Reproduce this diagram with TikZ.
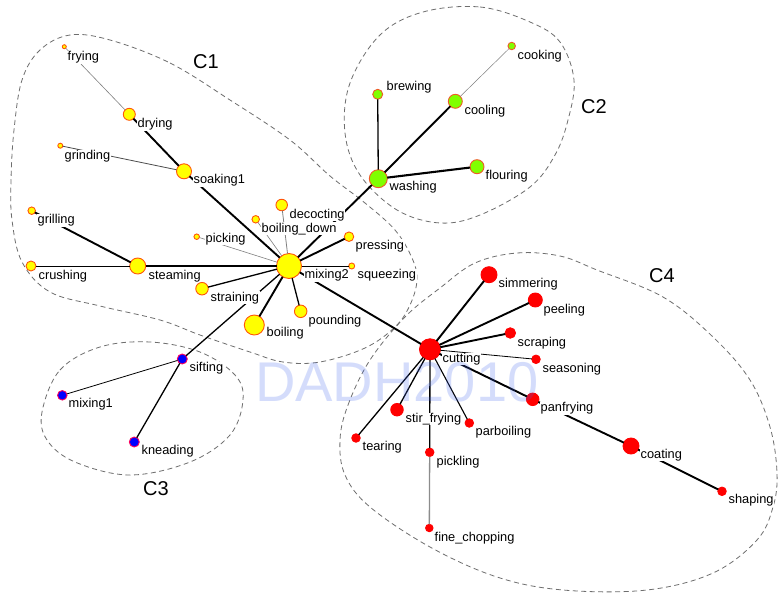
\documentclass[tikz,border=0pt]{standalone}
\usepackage{fontspec}
\setmainfont{Liberation Sans}
\definecolor{ylw}{RGB}{255,255,0}
\definecolor{ylwb}{RGB}{255,85,10}
\definecolor{grn}{RGB}{128,255,0}
\definecolor{grnb}{RGB}{240,90,40}
\definecolor{blu}{RGB}{0,0,255}
\definecolor{blub}{RGB}{255,0,90}
\definecolor{rd}{RGB}{255,0,0}
\definecolor{hullc}{RGB}{110,110,110}
\definecolor{wm}{RGB}{60,100,240}
\begin{document}
\begin{tikzpicture}[x=1pt,y=-1pt,
  vtx/.style={circle,inner sep=0pt,outer sep=0pt,line width=0.9pt},
  yv/.style={vtx,fill=ylw,draw=ylwb},
  gv/.style={vtx,fill=grn,draw=grnb},
  bv/.style={vtx,fill=blu,draw=blub},
  rv/.style={vtx,fill=rd,draw=rd},
  lbl/.style={anchor=base west,fill=white,inner sep=0.5pt,font=\fontsize{12.8}{14}\selectfont},
  clab/.style={anchor=base west,inner sep=0pt,font=\fontsize{20}{24}\selectfont},
  hull/.style={draw=hullc,line width=0.8pt,dash pattern=on 5pt off 3.5pt},
  wide/.style={line width=1.9pt},
  mid/.style={line width=1.3pt},
  slim/.style={line width=0.8pt},
  faint/.style={line width=0.6pt,draw=gray}]
\fill[white] (0,0) rectangle (778,594);
\useasboundingbox (0,0) rectangle (778,594);

% cluster hulls
\draw[hull] plot[smooth cycle,tension=0.6] coordinates {(110,40) (170,63) (230,100) (290,140) (330,176) (365,203) (395,230) (412,258) (417,280) (410,305) (395,327) (365,348) (320,362) (283,362) (250,352) (200,335) (160,320) (100,306) (50,292) (22,262) (12,220) (11,180) (14,130) (22,80) (40,50) (70,35)};
\draw[hull] plot[smooth cycle,tension=0.6] coordinates {(423,12) (480,7) (530,22) (560,42) (574,80) (568,120) (555,155) (530,187) (480,215) (440,223) (397,210) (360,175) (345,133) (350,83) (380,35)};
\draw[hull] plot[smooth cycle,tension=0.6] coordinates {(42,412) (60,370) (100,347) (150,342) (200,352) (235,375) (243,400) (230,435) (190,462) (130,475) (75,462) (47,440)};
\draw[hull] plot[smooth cycle,tension=0.6] coordinates {(340,440) (348,405) (370,360) (405,317) (440,288) (475,263) (517,253) (560,256) (597,270) (663,297) (713,337) (750,380) (770,427) (777,473) (773,507) (757,540) (713,573) (647,590) (563,590) (497,577) (430,547) (370,507) (345,475)};

% vertices C1
\node[yv,minimum size=4pt] (frying) at (64.3,46.7) {};
\node[yv,minimum size=12pt] (drying) at (129.3,114.3) {};
\node[yv,minimum size=5pt] (grinding) at (60.3,145.7) {};
\node[yv,minimum size=15pt] (soaking1) at (184,171.3) {};
\node[yv,minimum size=7.5pt] (grilling) at (31.7,210.7) {};
\node[yv,minimum size=10pt] (crushing) at (31,266) {};
\node[yv,minimum size=16pt] (steaming) at (137.7,266) {};
\node[yv,minimum size=5.5pt] (picking) at (196.7,236.7) {};
\node[yv,minimum size=7.5pt] (boilingdown) at (255.7,219.3) {};
\node[yv,minimum size=11.5pt] (decocting) at (281.7,205) {};
\node[yv,minimum size=9.5pt] (pressing) at (349,236.7) {};
\node[yv,minimum size=25pt] (mixing2) at (289,266) {};
\node[yv,minimum size=6pt] (squeezing) at (351.7,266) {};
\node[yv,minimum size=12.5pt] (straining) at (202,288.7) {};
\node[yv,minimum size=12.5pt] (pounding) at (300.7,311.3) {};
\node[yv,minimum size=20pt] (boiling) at (254.3,325) {};
% C2
\node[gv,minimum size=7.5pt] (cooking) at (511.7,46) {};
\node[gv,minimum size=10pt] (brewing) at (377.7,94.3) {};
\node[gv,minimum size=14pt] (cooling) at (455.3,101.3) {};
\node[gv,minimum size=18pt] (washing) at (378.3,178.7) {};
\node[gv,minimum size=14pt] (flouring) at (477,166.7) {};
% C3
\node[bv,minimum size=10pt] (sifting) at (182.3,359) {};
\node[bv,minimum size=9.5pt] (mixing1) at (62.3,395.3) {};
\node[bv,minimum size=10pt] (kneading) at (134.3,442) {};
% C4
\node[rv,minimum size=16pt] (simmering) at (489,274.7) {};
\node[rv,minimum size=14pt] (peeling) at (535.3,300) {};
\node[rv,minimum size=10.5pt] (scraping) at (510.3,333) {};
\node[rv,minimum size=21pt] (cutting) at (430,349.3) {};
\node[rv,minimum size=8.5pt] (seasoning) at (536,359.3) {};
\node[rv,minimum size=12.5pt] (panfrying) at (532.7,399.3) {};
\node[rv,minimum size=12.5pt] (stirfrying) at (397,409.7) {};
\node[rv,minimum size=8.5pt] (parboiling) at (469.3,423) {};
\node[rv,minimum size=8.5pt] (tearing) at (356,438) {};
\node[rv,minimum size=8.5pt] (pickling) at (429.7,452.3) {};
\node[rv,minimum size=16pt] (coating) at (631,446) {};
\node[rv,minimum size=8.5pt] (shaping) at (722,491.3) {};
\node[rv,minimum size=7.5pt] (finechopping) at (429.3,528) {};

% edges
\draw[faint] (frying) -- (drying);
\draw[wide] (drying) -- (soaking1);
\draw[slim,draw=black!70] (grinding) -- (soaking1);
\draw[wide] (soaking1) -- (mixing2);
\draw[wide] (grilling) -- (steaming);
\draw[slim] (crushing) -- (steaming);
\draw[wide] (steaming) -- (mixing2);
\draw[faint] (picking) -- (mixing2);
\draw[faint] (boilingdown) -- (mixing2);
\draw[faint,line width=0.8pt] (decocting) -- (mixing2);
\draw[wide] (pressing) -- (mixing2);
\draw[slim] (squeezing) -- (mixing2);
\draw[mid] (straining) -- (mixing2);
\draw[wide] (boiling) -- (mixing2);
\draw[mid] (pounding) -- (mixing2);
\draw[wide] (mixing2) -- (washing);
\draw[mid] (mixing2) -- (sifting);
\draw[wide] (mixing2) -- (cutting);
\draw[mid] (washing) -- (brewing);
\draw[wide] (washing) -- (cooling);
\draw[faint,line width=0.5pt] (cooling) -- (cooking);
\draw[wide,line width=2.1pt] (washing) -- (flouring);
\draw[slim] (sifting) -- (mixing1);
\draw[mid] (sifting) -- (kneading);
\draw[wide] (cutting) -- (simmering);
\draw[wide] (cutting) -- (peeling);
\draw[wide] (cutting) -- (scraping);
\draw[slim] (cutting) -- (seasoning);
\draw[wide] (cutting) -- (panfrying);
\draw[mid] (cutting) -- (stirfrying);
\draw[mid] (cutting) -- (tearing);
\draw[mid] (cutting) -- (pickling);
\draw[mid,line width=1.1pt] (cutting) -- (parboiling);
\draw[mid,draw=black!45] (pickling) -- (finechopping);
\draw[wide] (panfrying) -- (coating);
\draw[wide] (coating) -- (shaping);

% labels
\node[lbl] (lfrying) at (67,60.5) {frying};
\node[lbl] (ldrying) at (137,127.5) {drying};
\node[lbl] (lgrinding) at (64,159.5) {grinding};
\node[lbl] (lsoaking1) at (193,183.5) {soaking1};
\node[lbl] (lgrilling) at (37,223.5) {grilling};
\node[lbl] (lcrushing) at (38,279) {crushing};
\node[lbl] (lsteaming) at (148,279) {steaming};
\node[lbl] (lpicking) at (205,242) {picking};
\node[lbl] (lboilingdown) at (261,232) {boiling\_down};
\node[lbl] (ldecocting) at (289,218) {decocting};
\node[lbl] (lpressing) at (355,249) {pressing};
\node[lbl] (lmixing2) at (304,278.5) {mixing2};
\node[lbl] (lsqueezing) at (357,278.5) {squeezing};
\node[lbl] (lstraining) at (210,301) {straining};
\node[lbl] (lpounding) at (308,324) {pounding};
\node[lbl] (lboiling) at (266,336) {boiling};
\node[lbl] (lcooking) at (517,59.3) {cooking};
\node[lbl] (lbrewing) at (386,90.7) {brewing};
\node[lbl] (lcooling) at (464,114) {cooling};
\node[lbl] (lwashing) at (389,190.7) {washing};
\node[lbl] (lflouring) at (485,179) {flouring};
\node[lbl] (lsifting) at (189,371.7) {sifting};
\node[lbl] (lmixing1) at (68,407.3) {mixing1};
\node[lbl] (lkneading) at (141,454.3) {kneading};
\node[lbl] (lsimmering) at (498,287.3) {simmering};
\node[lbl] (lpeeling) at (543,313.3) {peeling};
\node[lbl] (lscraping) at (517,346) {scraping};
\node[lbl] (lcutting) at (442,362.3) {cutting};
\node[lbl] (lseasoning) at (542,372.3) {seasoning};
\node[lbl] (lpanfrying) at (540,411.7) {panfrying};
\node[lbl] (lstirfrying) at (405,422.3) {stir\_frying};
\node[lbl] (lparboiling) at (475,435.7) {parboiling};
\node[lbl] (ltearing) at (362,450) {tearing};
\node[lbl] (lpickling) at (436,465.3) {pickling};
\node[lbl] (lcoating) at (640,458.3) {coating};
\node[lbl] (lshaping) at (728,503.3) {shaping};
\node[lbl] (lfinechopping) at (434,541) {fine\_chopping};

% cluster names
\node[clab] (c1) at (193,68.3) {C1};
\node[clab] (c2) at (581,113) {C2};
\node[clab] (c3) at (143,495) {C3};
\node[clab] (c4) at (649,282) {C4};

% watermark
\node[anchor=base west,inner sep=0pt,text=wm,opacity=0.22,font=\fontsize{56}{60}\selectfont] (wmark) at (255,401) {DADH2010};
\end{tikzpicture}
\end{document}
